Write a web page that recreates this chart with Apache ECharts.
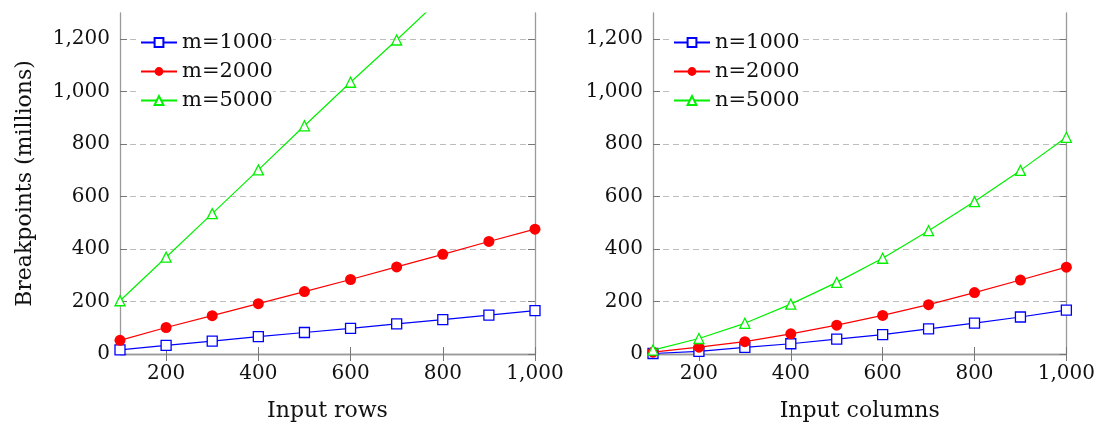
<!DOCTYPE html>
<html>
<head>
<meta charset="utf-8">
<script src="https://cdn.jsdelivr.net/npm/echarts@6/dist/echarts.min.js"></script>
<style>html,body{margin:0;padding:0;background:#fff}#c{width:1098px;height:427px}</style>
</head>
<body>
<div id="c"></div>
<script>
// ---- data ----
const xValues = [100, 200, 300, 400, 500, 600, 700, 800, 900, 1000];
const xTickLabels = [200, 400, 600, 800, 1000];
const yTickLabels = [0, 200, 400, 600, 800, 1000, 1200];

const rowsNames = ['m=1000', 'm=2000', 'm=5000'];
const rowsM1000 = [16, 33, 49, 66, 82, 98, 115, 131, 148, 165];
const rowsM2000 = [52, 101, 146, 192, 238, 284, 332, 380, 429, 476];
const rowsM5000 = [203, 369, 535, 702, 870, 1036, 1197, 1363, 1530, 1696];

const colsNames = ['n=1000', 'n=2000', 'n=5000'];
const colsN1000 = [2, 10, 25, 39, 57, 74, 96, 118, 141, 167];
const colsN2000 = [7, 26, 47, 77, 110, 147, 188, 234, 282, 331];
const colsN5000 = [15, 59, 117, 190, 273, 365, 470, 581, 700, 826];

const FONT = 'DejaVu Serif';
const frameColor = '#9a9a9a';
const tickColor = '#777';

function pairs(ys) { return xValues.map((x, i) => [x, ys[i]]); }
function fmt(v) { return String(v).replace(/\B(?=(\d{3})+(?!\d))/g, ','); }

const styles = [
  { color: '#0000ff', symbol: 'rect', symbolSize: 10, itemStyle: { color: '#fff', borderColor: '#0000ff', borderWidth: 1.3 } },
  { color: '#ff0000', symbol: 'circle', symbolSize: 11, itemStyle: { color: '#ff0000', borderColor: '#ff0000', borderWidth: 0 } },
  { color: '#00f000', symbol: 'triangle', symbolSize: 10, itemStyle: { color: '#fff', borderColor: '#00f000', borderWidth: 1.3 } }
];

function mkSeries(name, ys, k, gi) {
  const s = styles[k];
  return {
    type: 'line', name: name, data: pairs(ys),
    xAxisIndex: gi * 2, yAxisIndex: gi * 2,
    symbol: s.symbol, symbolSize: s.symbolSize, showAllSymbol: true,
    lineStyle: { color: s.color, width: 1.2 },
    itemStyle: s.itemStyle,
    clip: true, animation: false, z: 3 + k
  };
}

function xAxes(gi, name) {
  return [
    {
      type: 'value', gridIndex: gi, position: 'bottom', min: 100, max: 1000, interval: 100,
      name: name, nameLocation: 'middle', nameGap: 46,
      nameTextStyle: { fontFamily: FONT, fontSize: 22, color: '#111' },
      axisLine: { show: true, lineStyle: { color: frameColor, width: 1.3 } },
      axisTick: { show: true, inside: true, length: 7, customValues: xTickLabels, lineStyle: { color: tickColor } },
      axisLabel: { show: true, customValues: xTickLabels, formatter: fmt, margin: 10,
        fontFamily: FONT, fontSize: 20, color: '#111' },
      splitLine: { show: false }
    },
    {
      type: 'value', gridIndex: gi, position: 'top', min: 100, max: 1000, interval: 100,
      axisLine: { show: true, lineStyle: { color: frameColor, width: 1.3 } },
      axisTick: { show: true, inside: true, length: 7, customValues: xTickLabels, lineStyle: { color: tickColor } },
      axisLabel: { show: false },
      splitLine: { show: false }
    }
  ];
}

function yAxes(gi, name) {
  return [
    {
      type: 'value', gridIndex: gi, position: 'left', min: 0, max: 1300, interval: 200,
      name: name, nameLocation: 'middle', nameGap: 84, nameRotate: 90,
      nameTextStyle: { fontFamily: FONT, fontSize: 22, color: '#111' },
      axisLine: { show: true, lineStyle: { color: frameColor, width: 1.3 } },
      axisTick: { show: true, inside: true, length: 7, customValues: yTickLabels, lineStyle: { color: tickColor } },
      axisLabel: { show: true, customValues: yTickLabels, formatter: fmt, margin: 10,
        fontFamily: FONT, fontSize: 20, color: '#111' },
      splitLine: { show: true, lineStyle: { color: '#bdbdbd', type: [6, 4], width: 1 } }
    },
    {
      type: 'value', gridIndex: gi, position: 'right', min: 0, max: 1300, interval: 200,
      axisLine: { show: true, lineStyle: { color: frameColor, width: 1.3 } },
      axisTick: { show: true, inside: true, length: 7, customValues: yTickLabels, lineStyle: { color: tickColor } },
      axisLabel: { show: false },
      splitLine: { show: false }
    }
  ];
}

function mkLegend(left, names) {
  return {
    show: true, orient: 'vertical', left: left, top: 32, data: names,
    itemWidth: 36, itemHeight: 11, itemGap: 8, padding: 0,
    backgroundColor: 'rgba(255,255,255,0.9)',
    textStyle: { fontFamily: FONT, fontSize: 21, color: '#111' },
    selectedMode: false
  };
}

const chart = echarts.init(document.getElementById('c'), null, { renderer: 'canvas' });
const series = [];
[rowsM1000, rowsM2000, rowsM5000].forEach((ys, k) => series.push(mkSeries(rowsNames[k], ys, k, 0)));
[colsN1000, colsN2000, colsN5000].forEach((ys, k) => series.push(mkSeries(colsNames[k], ys, k, 1)));

chart.setOption({
  animation: false,
  backgroundColor: '#fff',
  grid: [
    { left: 120, right: 563, top: 13, bottom: 70, containLabel: false },
    { left: 653, right: 30, top: 13, bottom: 70, containLabel: false }
  ],
  xAxis: [...xAxes(0, 'Input rows'), ...xAxes(1, 'Input columns')],
  yAxis: [...yAxes(0, 'Breakpoints (millions)'), ...yAxes(1, '')],
  legend: [mkLegend(140, rowsNames), mkLegend(673, colsNames)],
  series: series
});
</script>
</body>
</html>
